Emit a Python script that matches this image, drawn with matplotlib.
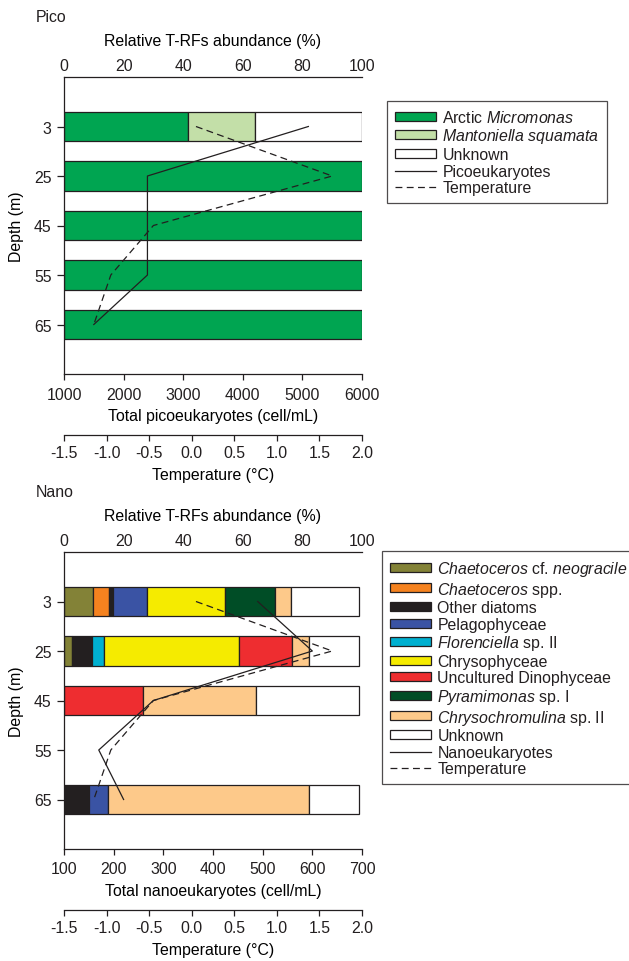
import matplotlib
matplotlib.use("Agg")
import matplotlib.pyplot as plt
import numpy as np
from matplotlib.patches import Patch
from matplotlib.lines import Line2D

plt.rcParams["font.family"] = ["Liberation Sans", "DejaVu Sans"]
plt.rcParams["mathtext.fontset"] = "custom"
plt.rcParams["mathtext.rm"] = "Liberation Sans"
plt.rcParams["mathtext.it"] = "Liberation Sans:italic"
plt.rcParams["font.size"] = 11.4
plt.rcParams["text.color"] = "#231f20"
plt.rcParams["axes.edgecolor"] = "#231f20"
plt.rcParams["xtick.color"] = "#231f20"
plt.rcParams["ytick.color"] = "#231f20"

depths = ["3", "25", "45", "55", "65"]
temperature = [0.05, 1.65, -0.45, -0.95, -1.15]

# picoeukaryote T-RF composition (%)
micromonas = [41.6, 100, 100, 100, 100]
mantoniella = [22.4, 0, 0, 0, 0]
unknown_pico = [36.0, 0, 0, 0, 0]
pico_cells = [5100, 2400, 2400, 2400, 1500]

# nanoeukaryote T-RF composition (%)
neogracile = [9.8, 2.6, 0, 0, 0]
chaeto_spp = [5.3, 0, 0, 0, 0]
other_diatoms = [1.2, 6.7, 0, 0, 8.4]
pelagophyceae = [11.4, 0, 0, 0, 6.3]
florenciella = [0, 4.2, 0, 0, 0]
chrysophyceae = [26.3, 45.3, 0, 0, 0]
dinophyceae = [0, 17.6, 26.6, 0, 0]
pyramimonas = [16.8, 0, 0, 0, 0]
chrysochromulina = [5.3, 5.7, 37.7, 0, 67.5]
unknown_nano = [22.9, 16.9, 34.7, 0, 16.8]
nano_cells = [490, 600, 280, 170, 220]

pico_series = [
    (micromonas, "#00a551", r"Arctic $\it{Micromonas}$"),
    (mantoniella, "#c3dfa8", r"$\it{Mantoniella\ squamata}$"),
    (unknown_pico, "white", "Unknown"),
]
nano_series = [
    (neogracile, "#838237", r"$\it{Chaetoceros}$ cf. $\it{neogracile}$"),
    (chaeto_spp, "#f5821f", r"$\it{Chaetoceros}$ spp."),
    (other_diatoms, "#231f20", "Other diatoms"),
    (pelagophyceae, "#3a53a4", "Pelagophyceae"),
    (florenciella, "#00b0d0", r"$\it{Florenciella}$ sp. II"),
    (chrysophyceae, "#f5eb00", "Chrysophyceae"),
    (dinophyceae, "#ee2d30", "Uncultured Dinophyceae"),
    (pyramimonas, "#004d26", r"$\it{Pyramimonas}$ sp. I"),
    (chrysochromulina, "#fdc98a", r"$\it{Chrysochromulina}$ sp. II"),
    (unknown_nano, "white", "Unknown"),
]

W, H = 629, 962
fig = plt.figure(figsize=(W / 100, H / 100), dpi=100)
ypos = np.arange(len(depths))
dash = (0, (5.5, 3.5))


def panel(top_px, series, cells, cell_lim, cell_ticks, cell_label, tag):
    ax = fig.add_axes([64 / W, 1 - (top_px + 297) / H, 298 / W, 297 / H])
    left = np.zeros(len(depths))
    for vals, color, _ in series:
        v = np.array(vals, dtype=float)
        m = v > 0
        ax.barh(ypos[m], v[m], left=left[m], height=0.6, color=color,
                edgecolor="#231f20", linewidth=0.9, zorder=1)
        left += v

    # cell counts and temperature share the depth axis
    ax2 = ax.twiny()
    ax3 = ax.twiny()

    ax.set_xlim(0, 100)
    ax.set_ylim(5, -1)
    ax.set_yticks(ypos, depths)
    ax.set_ylabel("Depth (m)", labelpad=7)
    ax.xaxis.tick_top()
    ax.xaxis.set_label_position("top")
    ax.set_xticks(range(0, 101, 20))
    ax.tick_params(axis="x", length=0, pad=3)
    ax.tick_params(axis="y", length=5, width=0.9, pad=4)
    ax.set_xlabel("Relative T-RFs abundance (%)", labelpad=9)
    ax.spines["right"].set_visible(False)
    ax.spines["bottom"].set_visible(False)
    for s in ["top", "left"]:
        ax.spines[s].set_linewidth(0.9)

    ax2.set_xlim(*cell_lim)
    ax2.set_xticks(cell_ticks)
    ax2.xaxis.set_ticks_position("bottom")
    ax2.xaxis.set_label_position("bottom")
    ax2.tick_params(axis="x", length=4, width=0.9, pad=5)
    ax2.set_xlabel(cell_label, labelpad=5)
    for s in ["top", "right", "left"]:
        ax2.spines[s].set_visible(False)
    ax2.spines["bottom"].set_linewidth(0.9)
    ax2.plot(cells, ypos, color="#231f20", linewidth=0.9, zorder=3)

    ax3.set_xlim(-1.5, 2.0)
    ax3.set_xticks(np.arange(-1.5, 2.01, 0.5))
    ax3.set_xticklabels([f"{t:.1f}" for t in np.arange(-1.5, 2.01, 0.5)])
    ax3.xaxis.set_ticks_position("bottom")
    ax3.xaxis.set_label_position("bottom")
    ax3.spines["bottom"].set_position(("outward", 44))
    ax3.tick_params(axis="x", length=4, width=0.9, pad=3)
    ax3.set_xlabel("Temperature (°C)", labelpad=5)
    for s in ["top", "right", "left"]:
        ax3.spines[s].set_visible(False)
    ax3.spines["bottom"].set_linewidth(0.9)
    ax3.plot(temperature, ypos, color="#231f20", linewidth=0.9,
             linestyle=dash, zorder=3)

    fig.text(36 / W, 1 - (top_px - 60) / H, tag, ha="left", va="center")
    return ax


panel(78, pico_series, pico_cells, (1000, 6000), range(1000, 6001, 1000),
      "Total picoeukaryotes (cell/mL)", "Pico")
panel(553, nano_series, nano_cells, (100, 700), range(100, 701, 100),
      "Total nanoeukaryotes (cell/mL)", "Nano")


def legend(series, line_label, x_px, y_px):
    handles = [Patch(facecolor=c, edgecolor="#231f20", linewidth=0.9)
               for _, c, _ in series]
    labels = [lab for _, _, lab in series]
    handles += [Line2D([], [], color="#231f20", linewidth=0.9),
                Line2D([], [], color="#231f20", linewidth=0.9, linestyle=dash)]
    labels += [line_label, "Temperature"]
    leg = fig.legend(handles, labels, loc="upper left",
                     bbox_to_anchor=(x_px / W, 1 - y_px / H),
                     borderaxespad=0, fancybox=False, frameon=True,
                     edgecolor="#231f20", handlelength=2.6, handleheight=0.5,
                     handletextpad=0.4, labelspacing=0.1, borderpad=0.5)
    leg.get_frame().set_linewidth(0.9)


legend(pico_series, "Picoeukaryotes", 387, 102)
legend(nano_series, "Nanoeukaryotes", 382, 552)

fig.savefig("out.png", dpi=100)
